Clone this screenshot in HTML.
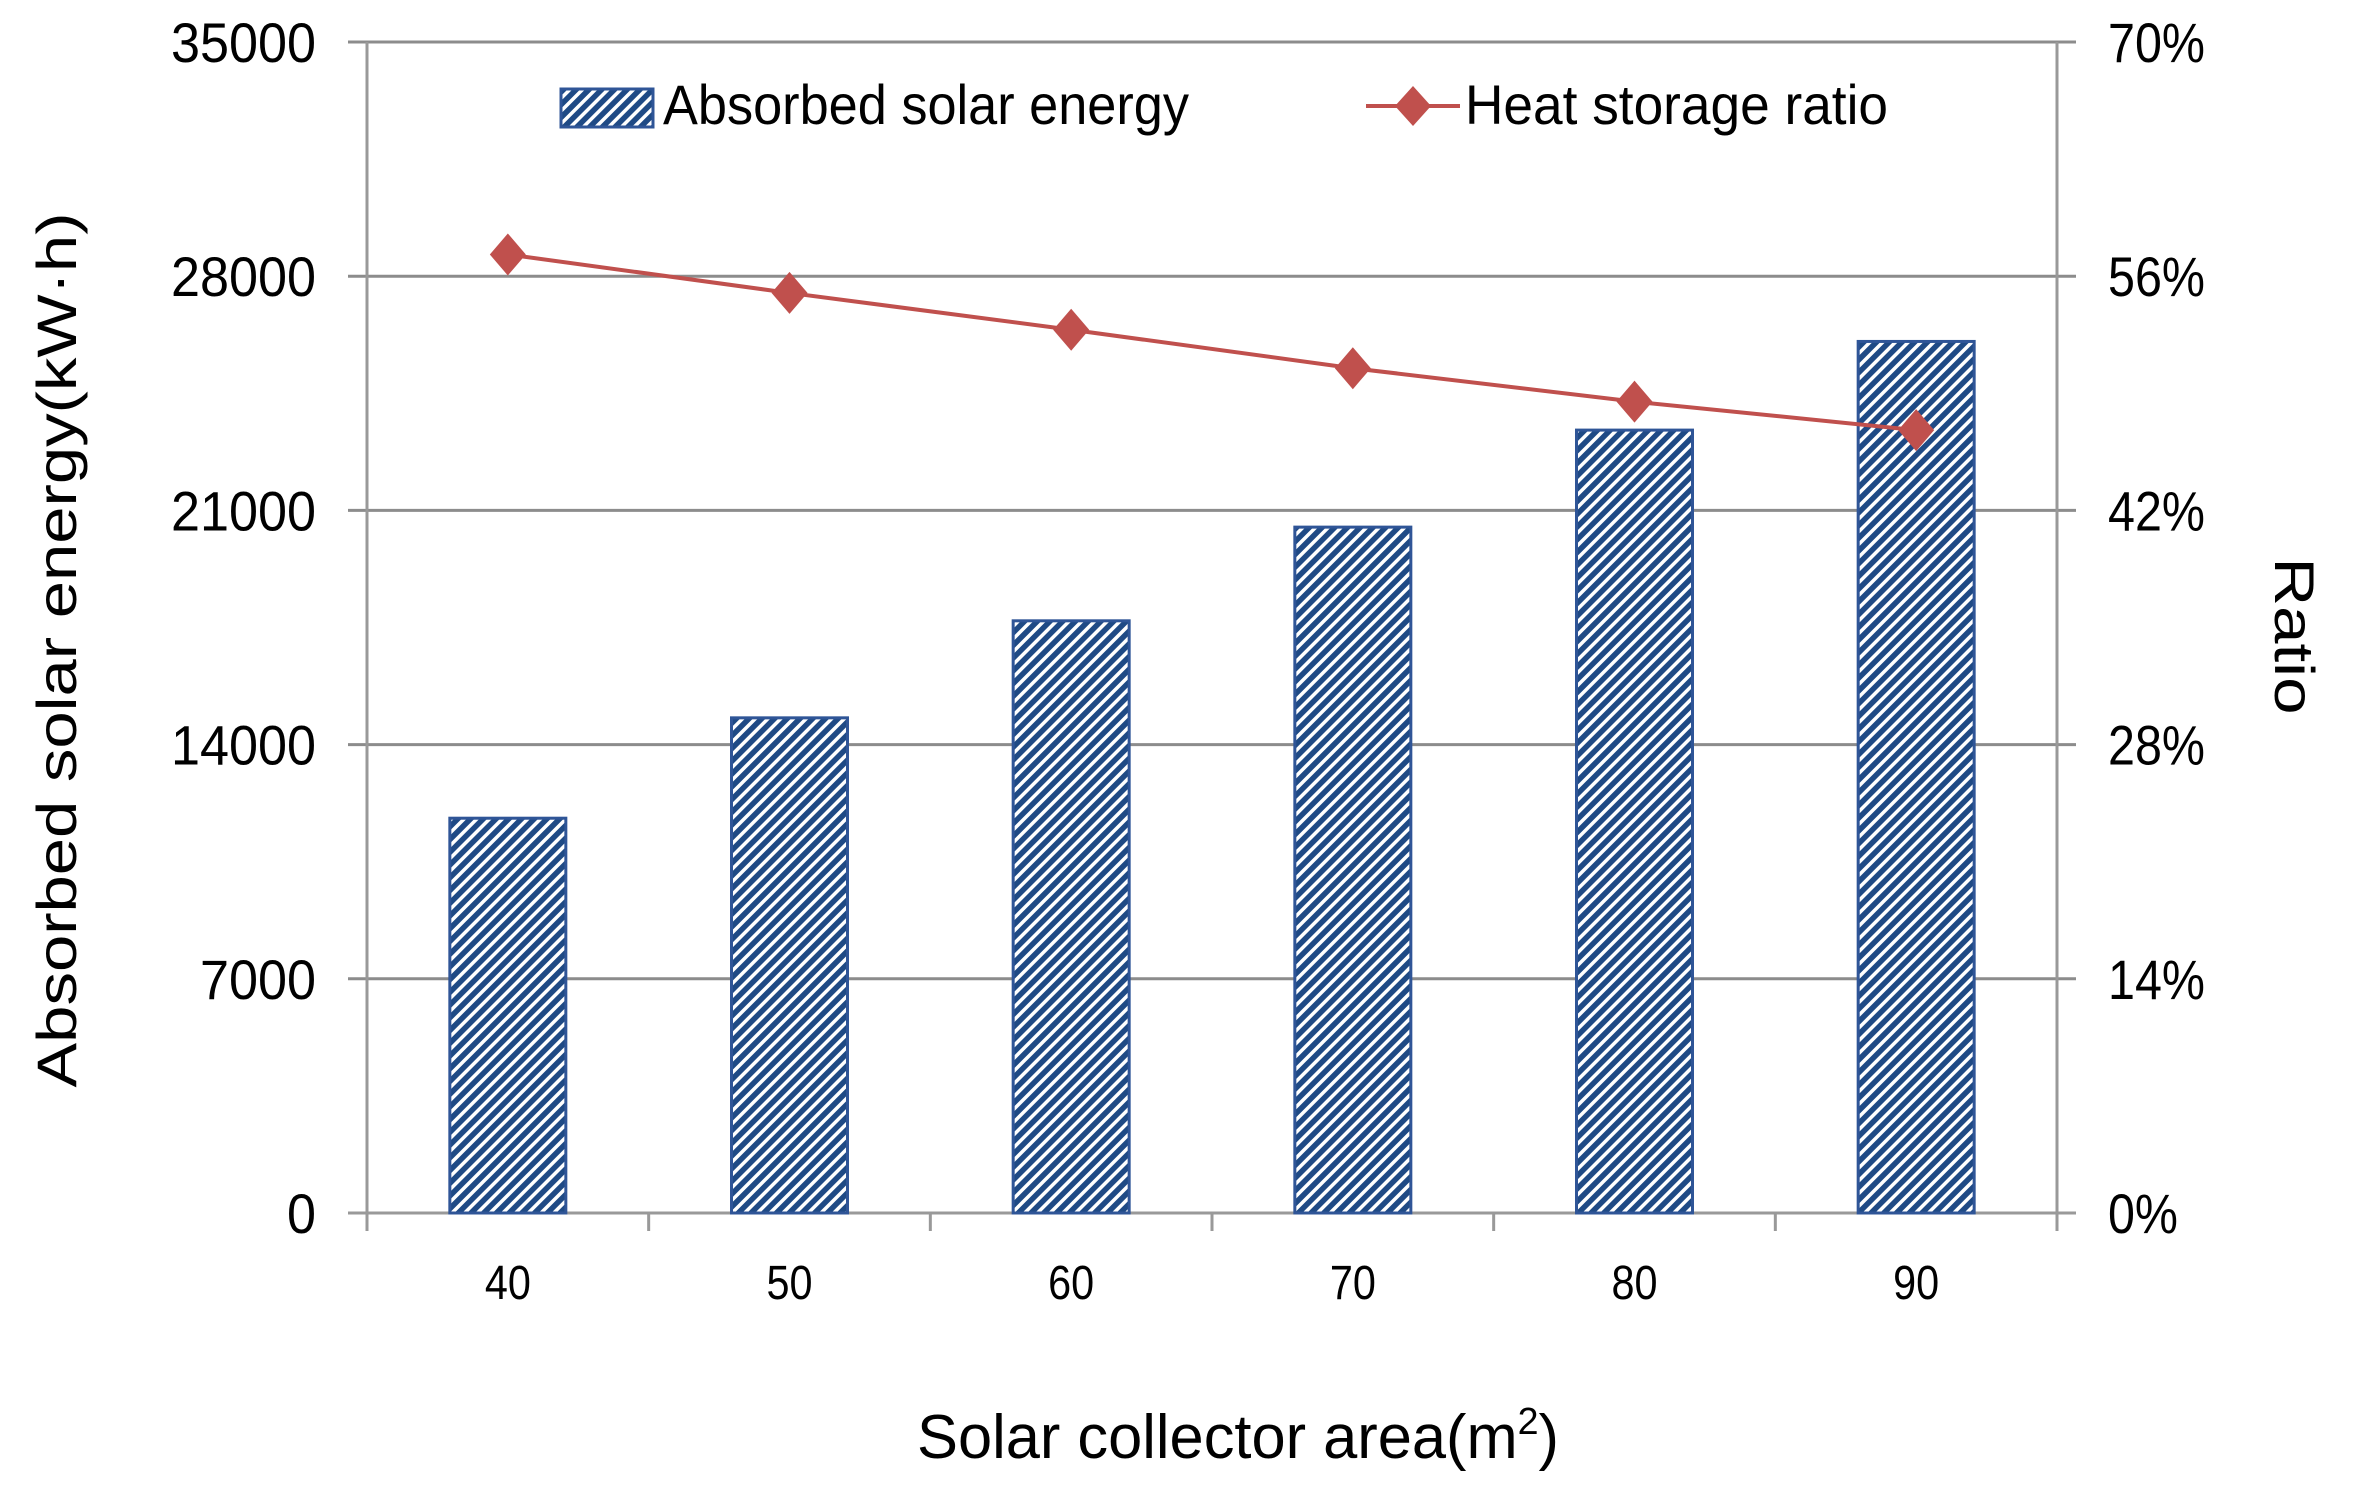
<!DOCTYPE html>
<html><head><meta charset="utf-8"><style>
body{margin:0;background:#fff}
svg{display:block}
text{font-family:"Liberation Sans",sans-serif;fill:#000}
</style></head><body>
<svg id="chart" width="2358" height="1494" viewBox="0 0 2358 1494" xmlns="http://www.w3.org/2000/svg">
<defs>
<pattern id="hatch" patternUnits="userSpaceOnUse" width="9" height="9" patternTransform="rotate(45)">
<rect width="9" height="9" fill="#fff"/>
<rect width="5.5" height="9" fill="#1f4a85"/>
</pattern>
</defs>
<g id="grid"></g>
<g id="bars"></g>
<g id="line"></g>
<g id="labels"></g>
<g>
<rect x="561" y="89" width="92" height="38" fill="url(#hatch)" stroke="#2f5597" stroke-width="3"/>
<text x="663" y="124" font-size="56" textLength="526" lengthAdjust="spacingAndGlyphs">Absorbed solar energy</text>
<line x1="1366" y1="106" x2="1460" y2="106" stroke="#c0504d" stroke-width="4"/>
<polygon points="1413,86 1431,106 1413,126 1395,106" fill="#c0504d"/>
<text x="1465" y="124" font-size="56" textLength="423" lengthAdjust="spacingAndGlyphs">Heat storage ratio</text>
</g>
<text transform="translate(76,650) rotate(-90)" text-anchor="middle" font-size="56" textLength="875" lengthAdjust="spacingAndGlyphs">Absorbed solar energy(kW·h)</text>
<text transform="translate(2275,636) rotate(90)" text-anchor="middle" font-size="56" textLength="157" lengthAdjust="spacingAndGlyphs">Ratio</text>
<text x="917" y="1458" font-size="62" textLength="642" lengthAdjust="spacingAndGlyphs">Solar collector area(m<tspan font-size="38" dy="-24">2</tspan><tspan dy="24">)</tspan></text>
</svg>
<script>
const categories = [40, 50, 60, 70, 80, 90];
const energyValues = [11800, 14800, 17700, 20500, 23400, 26050];
const ratioValues = [57.3, 55.0, 52.8, 50.5, 48.5, 46.8];
const leftTicks = [0, 7000, 14000, 21000, 28000, 35000];
const rightTicks = ["0%", "14%", "28%", "42%", "56%", "70%"];

const NS = "http://www.w3.org/2000/svg";
const X0 = 367, X1 = 2057, Y0 = 1213, Y1 = 42;
const catW = (X1 - X0) / categories.length;
function xC(i){ return X0 + catW * (i + 0.5); }
function yL(v){ return Y0 - (v / 35000) * (Y0 - Y1); }
function yR(p){ return Y0 - (p / 70) * (Y0 - Y1); }
function mk(tag, attrs, parent){ const e = document.createElementNS(NS, tag); for (const k in attrs) e.setAttribute(k, attrs[k]); parent.appendChild(e); return e; }

const grid = document.getElementById('grid');
const labels = document.getElementById('labels');
leftTicks.forEach((t, i) => {
  const y = yL(t);
  const g = mk('line', {x1: 348, x2: 2076, y1: y, y2: y, stroke: i === 0 ? '#999' : '#8c8c8c', 'stroke-width': 3}, grid);
  
  
  const s = String(t);
  const lt = mk('text', {x: 316, y: y + 20, 'text-anchor': 'end', 'font-size': 56, textLength: 29 * s.length, lengthAdjust: 'spacingAndGlyphs'}, labels);
  lt.textContent = s;
  
  
  const r = rightTicks[i];
  const rt = mk('text', {x: 2108, y: y + 20, 'font-size': 56, textLength: r.length === 2 ? 70 : 97, lengthAdjust: 'spacingAndGlyphs'}, labels);
  rt.textContent = r;
  
  
});
const la = mk('line', {x1: X0, x2: X0, y1: Y1, y2: 1231, stroke: '#999', 'stroke-width': 3}, grid);


const ra = mk('line', {x1: X1, x2: X1, y1: Y1, y2: 1231, stroke: '#999', 'stroke-width': 3}, grid);


for (let i = 1; i < categories.length; i++) {
  const x = X0 + catW * i;
  const tk = mk('line', {x1: x, x2: x, y1: Y0, y2: 1231, stroke: '#999', 'stroke-width': 3}, grid);
  
  
}

const bars = document.getElementById('bars');
categories.forEach((c, i) => {
  const w = 116, y = yL(energyValues[i]);
  const b = mk('rect', {x: xC(i) - w / 2, y: y, width: w, height: Y0 - y, fill: 'url(#hatch)', stroke: '#2f5597', 'stroke-width': 3}, bars);
  
  
  const t = mk('text', {x: xC(i), y: 1299, 'text-anchor': 'middle', 'font-size': 48, textLength: 46, lengthAdjust: 'spacingAndGlyphs'}, labels);
  t.textContent = c;
  
  
});

const lineG = document.getElementById('line');
const pts = ratioValues.map((v, i) => xC(i) + ',' + yR(v)).join(' ');
const pl = mk('polyline', {points: pts, fill: 'none', stroke: '#c0504d', 'stroke-width': 4}, lineG);


ratioValues.forEach((v, i) => {
  const x = xC(i), y = yR(v);
  const d = mk('polygon', {points: `${x},${y-21} ${x+18},${y} ${x},${y+21} ${x-18},${y}`, fill: '#c0504d'}, lineG);
  
  
});
</script>
</body></html>
